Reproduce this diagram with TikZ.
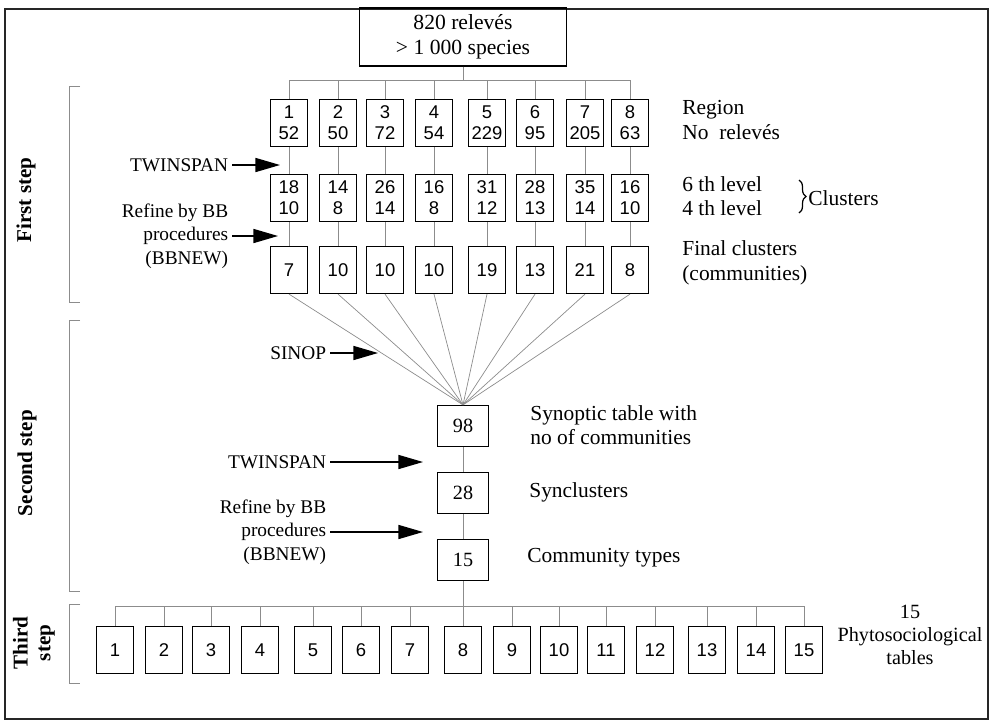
\documentclass[tikz,border=0pt]{standalone}
\usepackage{fontspec}
\setmainfont{Liberation Serif}
\setsansfont{Liberation Sans}
\usetikzlibrary{arrows.meta, positioning, decorations.pathreplacing}

\begin{document}
\begin{tikzpicture}[x=0.02cm, y=-0.02cm,
		box/.style={draw, line width=0.7pt, inner sep=1.5pt, minimum width=0.74cm, minimum height=0.94cm, align=center, font=\sffamily\fontsize{10.5}{12}\selectfont},
		sbox/.style={draw, line width=0.7pt, minimum width=1.02cm, minimum height=0.82cm, font=\fontsize{11.5}{13}\selectfont},
		lbl/.style={anchor=west, align=left, inner sep=0pt, font=\fontsize{12.2}{14}\selectfont},
		tool/.style={anchor=east, align=right, inner sep=2pt, font=\fontsize{11}{13.5}\selectfont},
		steplbl/.style={rotate=90, align=center, font=\bfseries\fontsize{12}{13}\selectfont},
		link/.style={black!45, line width=0.4pt},
		pointer/.style={line width=0.8pt, -{Triangle[length=14pt, width=8pt]}}]
		\useasboundingbox (0,0) rectangle (991,721);
		% Frame
		\draw[line width=1pt, black!85] (5,9) rectangle (988,719);

		% Data set
		\node[draw, line width=0.7pt, minimum width=4.14cm, minimum height=1.16cm, align=center, font=\fontsize{12.3}{14}\selectfont] (data) at (463,37) {820 relevés\\> 1 000 species};
		\coordinate (bus) at (463,80);

		% First step
		\foreach \x/\r/\n [count=\i] in {289/1/52, 338/2/50, 385/3/72, 434/4/54, 487/5/229, 535/6/95, 585/7/205, 630/8/63}
			\node[box] (reg\i) at (\x,123) {\r\\\n};
		\foreach \x/\a/\b [count=\i] in {289/18/10, 338/14/8, 385/26/14, 434/16/8, 487/31/12, 535/28/13, 585/35/14, 630/16/10}
			\node[box] (lev\i) at (\x,198) {\a\\\b};
		\foreach \x/\c [count=\i] in {289/7, 338/10, 385/10, 434/10, 487/19, 535/13, 585/21, 630/8}
			\node[box] (fin\i) at (\x,270) {\c};

		% Second step
		\node[sbox] (syn) at (463,426) {98};
		\node[sbox] (sync) at (463,493) {28};
		\node[sbox] (ctype) at (463,560) {15};

		% Third step
		\coordinate (bus2) at (463,606);
		\foreach \x [count=\i] in {115,164,211,260,313,361,410,463,512,559,606,655,707,756,804}
			\node[box] (tab\i) at (\x,650) {\i};

		% Links
		\draw[link] (data.south) -- (data.south |- bus);
		\draw[link] (reg1.north |- bus) -- (reg8.north |- bus);
		\foreach \i in {1,...,8} {
			\draw[link] (reg\i.north |- bus) -- (reg\i.north);
			\draw[link] (reg\i) -- (lev\i);
			\draw[link] (lev\i) -- (fin\i);
			\draw[link] (fin\i.south) -- (syn.north);
		}
		\draw[link] (syn) -- (sync);
		\draw[link] (sync) -- (ctype);
		\draw[link] (ctype.south) -- (tab8.north);
		\draw[link] (tab1.north |- bus2) -- (tab15.north |- bus2);
		\foreach \i in {1,...,15}
			\draw[link] (tab\i.north |- bus2) -- (tab\i.north);

		% Procedures
		\node[tool] (tw1) at (232,165) {TWINSPAN};
		\node[tool] (bb1) at (232,236) {Refine by BB\\procedures\\(BBNEW)};
		\node[tool] (sinop) at (330,353) {SINOP};
		\node[tool] (tw2) at (330,462) {TWINSPAN};
		\node[tool] (bb2) at (330,532) {Refine by BB\\procedures\\(BBNEW)};
		\coordinate (tw1h) at (280,165);
		\coordinate (bb1h) at (278,236);
		\coordinate (sinoph) at (378,353);
		\coordinate (tw2h) at (423,462);
		\coordinate (bb2h) at (423,532);
		\draw[pointer] (tw1.east) -- (tw1h);
		\draw[pointer] (bb1.east) -- (bb1h);
		\draw[pointer] (sinop.east) -- (sinoph);
		\draw[pointer] (tw2.east) -- (tw2h);
		\draw[pointer] (bb2.east) -- (bb2h);

		% Level names
		\node[lbl] (region) at (682,120) {Region\\No\ \ relevés};
		\node[lbl] (levels) at (682,196) {6 th level\\4 th level};
		\node[lbl] (final) at (682,263) {Final clusters\\(communities)};
		\node[lbl] (synoptic) at (530,425) {Synoptic table with\\no of communities};
		\node[lbl] (synclust) at (529,492) {Synclusters};
		\node[lbl] (commtypes) at (527,558) {Community types};
		\node[align=center, inner sep=0pt, font=\fontsize{11.5}{13}\selectfont] (phyto) at (910,635) {15\\Phytosociological\\tables};
		\coordinate (bt) at (799,180);
		\coordinate (bb) at (799,213);
		\draw[decorate, decoration={brace, amplitude=4pt}, line width=0.7pt] (bt) -- (bb);
		\node[lbl] (clusters) at (808,198) {Clusters};

		% Steps
		\draw[link] (80,86) -- (69,86) -- (69,302) -- (80,302);
		\draw[link] (80,320) -- (69,320) -- (69,591) -- (80,591);
		\draw[link] (80,604) -- (69,604) -- (69,683) -- (80,683);
		\node[steplbl] (first) at (26,200) {First step};
		\node[steplbl] (second) at (27,463) {Second step};
		\node[steplbl] (third) at (34,643) {Third\\step};
	\end{tikzpicture}
\end{document}
